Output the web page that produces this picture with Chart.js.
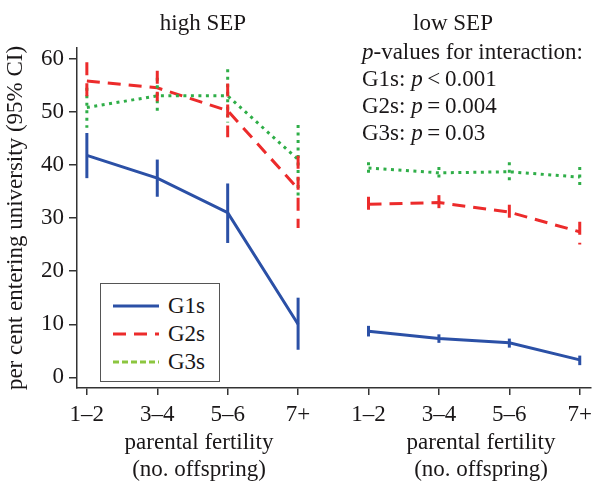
<!DOCTYPE html>
<html>
<head>
<meta charset="utf-8">
<script src="https://cdn.jsdelivr.net/npm/chart.js@4"></script>
<style>
  body { margin: 0; background: #fff; }
  #wrap { position: relative; width: 598px; height: 484px; font-family: "Liberation Serif", "DejaVu Serif", serif; color: #1a1718; }
  canvas { position: absolute; left: 0; top: 0; }
  .lbl { position: absolute; font-size: 23px; white-space: nowrap; line-height: 1; }
  .ctr { transform: translate(-50%, -50%); }
  .pv { transform: translateY(-50%); }
  #legend { position: absolute; left: 100px; top: 283px; width: 118px; height: 97px; border: 1.5px solid #555; background: #fff; }
  .row { position: absolute; left: 12px; height: 22px; font-size: 23px; line-height: 22px; }
  .row svg { position: absolute; left: 0; top: 5px; }
  .row span { position: absolute; left: 55px; top: 0; }
</style>
</head>
<body>
<div id="wrap">
  <canvas id="chart" width="598" height="484"></canvas>
  <div class="lbl ctr" style="left:203px; top:22px;">high SEP</div>
  <div class="lbl ctr" style="left:453px; top:22px;">low SEP</div>
  <div class="lbl pv" style="left:362px; top:51px;"><i>p</i>-values for interaction:</div>
  <div class="lbl pv" style="left:362px; top:78px;">G1s: <i>p</i>&thinsp;&lt;&thinsp;0.001</div>
  <div class="lbl pv" style="left:362px; top:105px;">G2s: <i>p</i>&thinsp;=&thinsp;0.004</div>
  <div class="lbl pv" style="left:362px; top:132px;">G3s: <i>p</i>&thinsp;=&thinsp;0.03</div>
  <div class="lbl ctr" style="left:199px; top:441px;">parental fertility</div>
  <div class="lbl ctr" style="left:199px; top:468px;">(no. offspring)</div>
  <div class="lbl ctr" style="left:481px; top:441px;">parental fertility</div>
  <div class="lbl ctr" style="left:481px; top:468px;">(no. offspring)</div>
  <div id="legend">
    <div class="row" style="top:11px;"><svg width="48" height="12"><line x1="0" y1="6" x2="46" y2="6" stroke="#2b50a6" stroke-width="3"/></svg><span>G1s</span></div>
    <div class="row" style="top:39px;"><svg width="48" height="12"><line x1="0" y1="6" x2="46" y2="6" stroke="#ec2b2b" stroke-width="3" stroke-dasharray="13 8"/></svg><span>G2s</span></div>
    <div class="row" style="top:67px;"><svg width="48" height="12"><line x1="0" y1="6" x2="46" y2="6" stroke="#8cc63f" stroke-width="3" stroke-dasharray="6 3"/></svg><span>G3s</span></div>
  </div>
</div>
<script>
const categories = ['1–2', '3–4', '5–6', '7+', '1–2', '3–4', '5–6', '7+'];
const yTicks = [0, 10, 20, 30, 40, 50, 60];

// first four = high SEP, last four = low SEP
const g1 = [41.8, 37.5, 31.0, 10.0, 8.7, 7.3, 6.5, 3.3];
const g1Low = [37.5, 34.0, 25.3, 5.2, 7.7, 6.5, 5.6, 2.3];
const g1High = [46.0, 41.0, 36.5, 15.0, 9.7, 8.1, 7.3, 4.1];

const g2 = [55.8, 54.5, 50.2, 35.5, 32.6, 32.9, 31.1, 27.4];
const g2Low = [52.3, 52.0, 45.2, 28.1, 31.0, 31.7, 29.0, 25.0];
const g2High = [59.3, 57.7, 55.3, 41.7, 34.0, 34.3, 32.5, 29.3];

const g3 = [50.8, 53.0, 53.0, 41.0, 39.4, 38.5, 38.7, 37.7];
const g3Low = [47.0, 50.0, 48.0, 34.0, 37.7, 36.8, 37.1, 35.6];
const g3High = [54.5, 56.4, 58.0, 47.5, 40.5, 39.6, 40.5, 39.6];

const blue = '#2b50a6', red = '#ec2b2b', green = '#2fae48';
const fontFam = 'Liberation Serif';

function panel(vals, lo, hi, start) {
    const pts = [];
    for (let i = start; i < start + 4; i++) {
        pts.push({ x: i, y: vals[i], lo: lo[i], hi: hi[i] });
    }
    return pts;
}

function series(vals, lo, hi, color, dash, start) {
    return {
        data: panel(vals, lo, hi, start),
        borderColor: color,
        borderWidth: 3,
        borderDash: dash,
        pointRadius: 0,
        fill: false,
        tension: 0
    };
}

const datasets = [];
[0, 4].forEach(start => {
    datasets.push(series(g3, g3Low, g3High, green, [3, 4.5], start));
    datasets.push(series(g2, g2Low, g2High, red, [13, 8], start));
    datasets.push(series(g1, g1Low, g1High, blue, [], start));
});

const errorBars = {
    id: 'errorBars',
    afterDatasetsDraw(chart) {
        const ctx = chart.ctx;
        const xs = chart.scales.x, ys = chart.scales.y;
        chart.data.datasets.forEach(ds => {
            ctx.save();
            ctx.strokeStyle = ds.borderColor;
            ctx.lineWidth = 3;
            ctx.setLineDash(ds.borderDash);
            ds.data.forEach(p => {
                const x = xs.getPixelForValue(p.x);
                ctx.beginPath();
                ctx.moveTo(x, ys.getPixelForValue(p.hi));
                ctx.lineTo(x, ys.getPixelForValue(p.lo));
                ctx.stroke();
            });
            ctx.restore();
        });
    }
};

new Chart(document.getElementById('chart'), {
    type: 'line',
    data: { datasets: datasets },
    options: {
        responsive: false,
        animation: false,
        layout: { padding: { top: 48, right: 1, left: 0, bottom: 0 } },
        plugins: { legend: { display: false }, tooltip: { enabled: false } },
        scales: {
            x: {
                type: 'linear',
                min: -0.14,
                max: 7.15,
                afterBuildTicks: s => { s.ticks = categories.map((c, i) => ({ value: i })); },
                afterFit: s => { s.height = 96; },
                ticks: {
                    callback: v => categories[v],
                    color: '#1a1718',
                    font: { family: fontFam, size: 23 },
                    padding: 6,
                    maxRotation: 0,
                    autoSkip: false
                },
                grid: { drawOnChartArea: false, drawTicks: true, tickLength: 7, color: '#333', lineWidth: 1.5 },
                border: { color: '#333', width: 1.5 }
            },
            y: {
                min: -2,
                max: 62,
                afterBuildTicks: s => { s.ticks = yTicks.map(v => ({ value: v })); },
                afterFit: s => { s.width = 77; },
                ticks: {
                    color: '#1a1718',
                    font: { family: fontFam, size: 23 },
                    padding: 5
                },
                grid: { drawOnChartArea: false, drawTicks: true, tickLength: 8, color: '#333', lineWidth: 1.5 },
                border: { color: '#333', width: 1.5 },
                title: {
                    display: true,
                    text: 'per cent entering university (95% CI)',
                    color: '#1a1718',
                    font: { family: fontFam, size: 23 },
                    padding: { top: 2, bottom: 0 }
                }
            }
        }
    },
    plugins: [errorBars]
});
</script>
</body>
</html>
